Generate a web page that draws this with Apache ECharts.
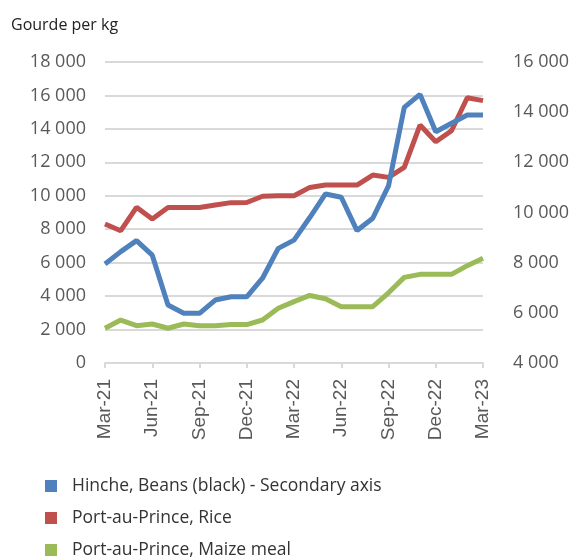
<!DOCTYPE html>
<html lang="en">
<head>
  <meta charset="UTF-8">
  <title>Haiti prices</title>
  <style>
    html, body { margin: 0; padding: 0; background: #fff; }
    #chart { width: 577px; height: 559px; }
  </style>
</head>
<body>
<div id="chart"></div>
<script src="https://cdn.jsdelivr.net/npm/echarts@6/dist/echarts.min.js"></script>
<script>
  var months = ['Mar-21', 'Apr-21', 'May-21', 'Jun-21', 'Jul-21', 'Aug-21', 'Sep-21', 'Oct-21', 'Nov-21',
    'Dec-21', 'Jan-22', 'Feb-22', 'Mar-22', 'Apr-22', 'May-22', 'Jun-22', 'Jul-22', 'Aug-22', 'Sep-22',
    'Oct-22', 'Nov-22', 'Dec-22', 'Jan-23', 'Feb-23', 'Mar-23']

  // secondary axis
  var beans = [7950, 8440, 8880, 8300, 6310, 5980, 5980, 6510, 6640, 6640, 7380, 8570, 8900,
    9800, 10740, 10610, 9280, 9770, 11060, 14190, 14710, 13220, 13560, 13890, 13890]
  var rice = [8310, 7910, 9310, 8610, 9300, 9300, 9300, 9450, 9590, 9600, 9970, 10000, 10000,
    10500, 10640, 10650, 10640, 11240, 11100, 11700, 14230, 13230, 13890, 15860, 15690]
  var maize = [2080, 2570, 2230, 2330, 2080, 2330, 2230, 2230, 2300, 2300, 2570, 3270, 3670,
    4040, 3840, 3370, 3370, 3370, 4200, 5120, 5300, 5300, 5300, 5820, 6260]

  var fmt = function (v) { return String(v).replace(/\B(?=(\d{3})+(?!\d))/g, ' ') }

  var chart = echarts.init(document.getElementById('chart'), null, { renderer: 'canvas' })
  var option = {
    animation: false,
    backgroundColor: '#fff',
    title: {
      text: 'Gourde per kg',
      left: 6, top: 12,
      textStyle: { fontFamily: 'Open Sans', fontSize: 16, fontWeight: 'normal', color: '#222' }
    },
    grid: { left: 105, right: 94, top: 62, bottom: 196 },
    legend: {
      orient: 'vertical',
      left: 45, top: 477, height: 120, padding: 0,
      itemWidth: 12, itemHeight: 12, itemGap: 14, icon: 'rect',
      textStyle: { fontFamily: 'Open Sans', fontSize: 17.5, color: '#333', padding: [0, 0, 0, 10] },
      data: ['Hinche, Beans (black) - Secondary axis', 'Port-au-Prince, Rice', 'Port-au-Prince, Maize meal']
    },
    xAxis: {
      type: 'category',
      data: months,
      boundaryGap: false,
      axisLine: { lineStyle: { color: '#d9d9d9', width: 2 } },
      axisTick: { interval: 2, length: 5, lineStyle: { color: '#d9d9d9', width: 2 } },
      axisLabel: {
        interval: 2, rotate: 90, margin: 16,
        fontFamily: 'Liberation Sans', fontSize: 19, color: '#595959'
      }
    },
    yAxis: [
      {
        type: 'value', min: 0, max: 18000, interval: 2000,
        axisLine: { show: false }, axisTick: { show: false },
        splitLine: { lineStyle: { color: '#d9d9d9', width: 2 } },
        axisLabel: { margin: 19, fontFamily: 'Open Sans', fontSize: 18, color: '#595959', formatter: fmt }
      },
      {
        type: 'value', min: 4000, max: 16000, interval: 2000,
        axisLine: { show: false }, axisTick: { show: false }, splitLine: { show: false },
        axisLabel: { margin: 30, fontFamily: 'Open Sans', fontSize: 18, color: '#595959', formatter: fmt }
      }
    ],
    series: [
      {
        name: 'Port-au-Prince, Rice', type: 'line', data: rice, yAxisIndex: 0,
        showSymbol: false, lineStyle: { width: 5 }, itemStyle: { color: '#c0504d' }
      },
      {
        name: 'Port-au-Prince, Maize meal', type: 'line', data: maize, yAxisIndex: 0,
        showSymbol: false, lineStyle: { width: 5 }, itemStyle: { color: '#9bbb59' }
      },
      {
        name: 'Hinche, Beans (black) - Secondary axis', type: 'line', data: beans, yAxisIndex: 1,
        showSymbol: false, lineStyle: { width: 5 }, itemStyle: { color: '#4f81bd' }
      }
    ]
  }
  chart.setOption(option)
  window.addEventListener('resize', chart.resize)
</script>
</body>
</html>
